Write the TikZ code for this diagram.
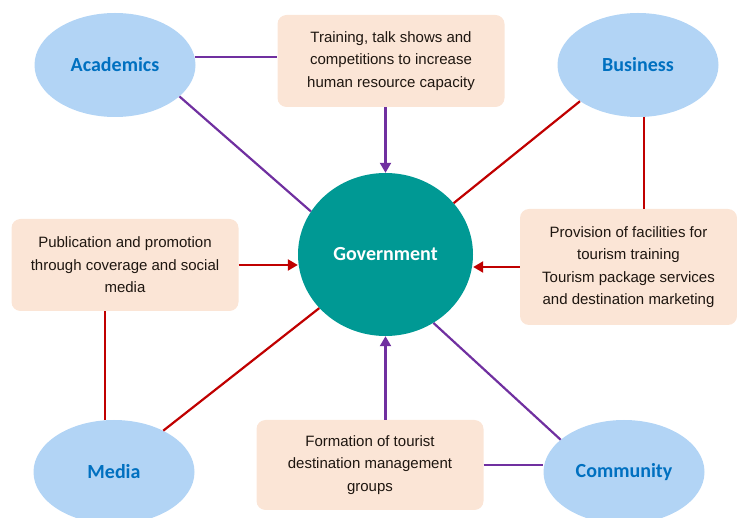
\documentclass[tikz,border=0pt]{standalone}
\usepackage{fontspec}
\setmainfont{Liberation Sans}
\newfontfamily\labelfont{Carlito}
\usetikzlibrary{arrows.meta,shapes.geometric}
\definecolor{actorblue}{RGB}{178,212,245}
\definecolor{actortext}{RGB}{0,112,192}
\definecolor{govteal}{RGB}{0,153,148}
\definecolor{notepeach}{RGB}{251,229,214}
\definecolor{linkpurple}{RGB}{112,48,160}
\definecolor{linkred}{RGB}{192,0,0}
\definecolor{notetext}{RGB}{30,22,16}

\tikzset{
  actor/.style={ellipse, fill=actorblue, minimum width=161pt, minimum height=104pt,
    inner sep=0pt, text=actortext, font=\labelfont\bfseries\fontsize{20}{24}\selectfont},
  note/.style={fill=notepeach, rounded corners=9pt, minimum width=227pt, minimum height=92pt,
    inner sep=0pt, align=center, text=notetext, font=\fontsize{15}{22.5}\selectfont},
  purplelink/.style={draw=linkpurple, line width=2.2pt},
  redlink/.style={draw=linkred, line width=2.2pt},
  arrowtip/.style={-{Triangle[length=10pt,width=11pt]}}
}

\begin{document}
\begin{tikzpicture}[x=1pt,y=-1pt]
\useasboundingbox (0,0) rectangle (737,518);

% Central actor
\node[ellipse, fill=govteal, minimum width=175pt, minimum height=163pt, inner sep=0pt,
  text=white, font=\labelfont\bfseries\fontsize{20}{24}\selectfont] (gov) at (385.5,254.5) {Government};

% Four stakeholders
\node[actor] (academics) at (115,65) {Academics};
\node[actor] (business) at (638,65) {Business};
\node[actor] (media) at (114,472) {Media};
\node[actor] (community) at (624,472) {Community};

% Contribution boxes
\node[note] (trainbox) at (391,61) {Training, talk shows and\\competitions to increase\\human resource capacity};
\node[note] (pubbox) at (125,265) {Publication and promotion\\through coverage and social\\media};
\node[note, minimum width=217pt, minimum height=116pt] (provbox) at (628.5,267)
  {Provision of facilities for\\tourism training\\Tourism package services\\and destination marketing};
\node[note, minimum height=90pt] (formbox) at (370,465) {Formation of tourist\\destination management\\groups};

% Purple links
\draw[purplelink] (academics.6) -- (academics.6 -| trainbox.west);
\draw[purplelink] (academics.-26) -- (gov.150.6);
\draw[purplelink, arrowtip] (trainbox.south -| gov.north) -- (gov.north);
\draw[purplelink] (community.153.4) -- (gov.-55.8);
\draw[purplelink] (formbox.east) -- (formbox.east -| community.west);
\draw[purplelink, arrowtip] (formbox.north -| gov.south) -- (gov.south);

% Red links
\draw[redlink] (business.212.5) -- (gov.37.3);
\draw[redlink] (business.-83) -- (business.-83 |- provbox.north);
\draw[redlink, arrowtip] (provbox.west) -- (provbox.west -| gov.east);
\draw[redlink, arrowtip] (pubbox.east) -- (pubbox.east -| gov.west);
\draw[redlink] (media.100) -- (media.100 |- pubbox.south);
\draw[redlink] (media.40) -- (gov.219);
\end{tikzpicture}
\end{document}
